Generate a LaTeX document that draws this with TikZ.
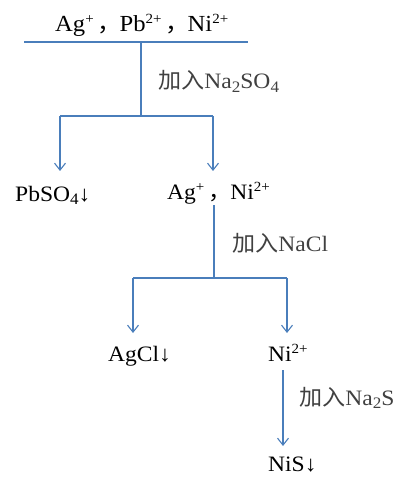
\documentclass[tikz,border=0pt]{standalone}
\usepackage{fontspec}
\setmainfont{Liberation Serif}[FakeStretch=1.07]
\newfontfamily\cjk{Noto Sans CJK SC}[FakeStretch=1.05]
\usetikzlibrary{arrows.meta}
\definecolor{flowblue}{RGB}{74,126,187}
\definecolor{labelgray}{RGB}{64,64,64}
% full-width comma between ions
\newcommand{\fc}{\hspace{16pt}\makebox[0pt][c]{\cjk ，}\hspace{10pt}}
% chemical sub- and superscripts
\newcommand{\chsub}[1]{\raisebox{-3.5pt}{\fontsize{16}{16}\selectfont #1}}
\newcommand{\chsup}[1]{\raisebox{8pt}{\fontsize{14}{14}\selectfont #1}}
\tikzset{
  x=1pt, y=-1pt,
  species/.style={inner sep=0pt, anchor=base west, font=\fontsize{22}{26}\selectfont, text=black},
  reagent/.style={inner sep=0pt, anchor=base west, font=\fontsize{22}{26}\selectfont, text=labelgray},
  wire/.style={draw=flowblue, line width=1.1pt},
  feed/.style={wire, -{Straight Barb[length=7pt, width=11pt, line width=1.1pt]}}
}
\begin{document}
\begin{tikzpicture}
\useasboundingbox (0,0) rectangle (401,478);

% species
\node[species, font=\fontsize{23}{27}\selectfont] (mix) at (55,32) {Ag\chsup{+}\fc Pb\chsup{2+}\fc Ni\chsup{2+}};
\node[species] (pbso4) at (15,201) {PbSO\chsub{4}↓};
\node[species] (agni) at (167,199) {Ag\chsup{+}\fc Ni\chsup{2+}};
\node[species] (agcl) at (108,361) {AgCl↓};
\node[species] (ni) at (268,361) {Ni\chsup{2+}};
\node[species] (nis) at (268,471) {NiS↓};

% reagents
\node[reagent] (r1) at (158,89) {{\cjk 加入}Na\chsub{2}SO\chsub{4}};
\node[reagent] (r2) at (232,251) {{\cjk 加入}NaCl};
\node[reagent] (r3) at (299,405) {{\cjk 加入}Na\chsub{2}S};

% junction points
\coordinate (barL) at (24,42);
\coordinate (barR) at (248,42);
\coordinate (s1) at (141,42);
\coordinate (j1) at (141,116);
\coordinate (j1L) at (60,116);
\coordinate (j1R) at (213,116);
\coordinate (a1L) at (60,171);
\coordinate (a1R) at (213,171);
\coordinate (s2) at (214,205);
\coordinate (j2) at (214,278);
\coordinate (j2L) at (133,278);
\coordinate (j2R) at (287,278);
\coordinate (a2L) at (133,333);
\coordinate (a2R) at (287,333);
\coordinate (s3) at (283,370);
\coordinate (a3) at (283,446);

% connectors
\draw[wire] (barL) -- (barR);
\draw[wire] (s1) -- (j1);
\draw[wire] (j1L) -- (j1R);
\draw[feed] (j1L) -- (a1L);
\draw[feed] (j1R) -- (a1R);
\draw[wire] (s2) -- (j2);
\draw[wire] (j2L) -- (j2R);
\draw[feed] (j2L) -- (a2L);
\draw[feed] (j2R) -- (a2R);
\draw[feed] (s3) -- (a3);
\end{tikzpicture}
\end{document}
